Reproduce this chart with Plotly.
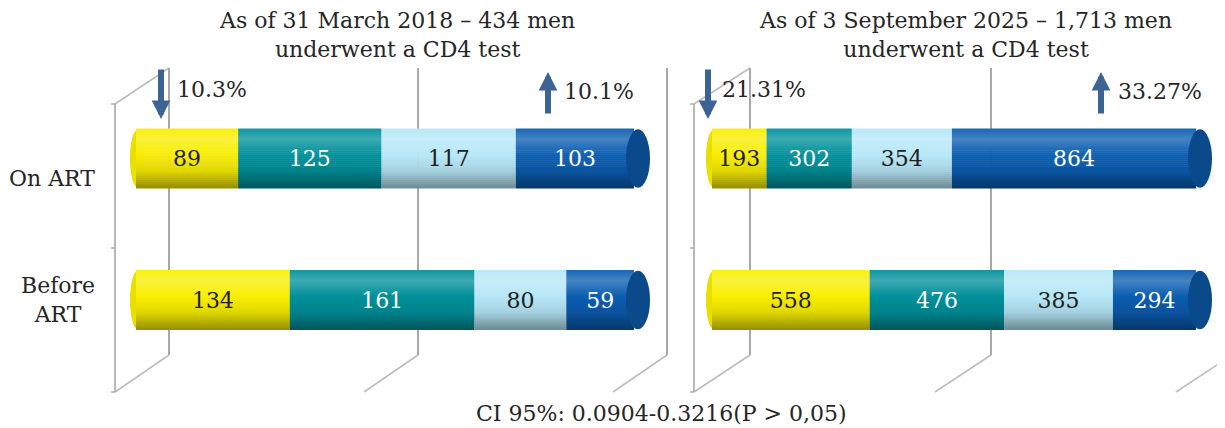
import plotly.graph_objects as go

# ---------------- data ----------------
categories = ["Before ART", "On ART"]
category_labels = ["Before<br>ART", "On ART"]
segment_names = ["Group 1", "Group 2", "Group 3", "Group 4"]

before_2018 = [134, 161, 80, 59]
on_2018 = [89, 125, 117, 103]
before_2025 = [558, 476, 385, 294]
on_2025 = [193, 302, 354, 864]

title_2018 = "As of 31 March 2018 – 434 men<br>underwent a CD4 test"
title_2025 = "As of 3 September 2025 – 1,713 men<br>underwent a CD4 test"
change_2018 = ["10.3%", "10.1%"]     # decrease of group 1, increase of group 4
change_2025 = ["21.31%", "33.27%"]
footnote = "CI 95%: 0.0904-0.3216(P > 0,05)"
gridline_values = [0, 50, 100]

# ---------------- style ----------------
OFF = 8                      # page body margin of the html page
W, H = 1225 - OFF, 428 - OFF  # figure size so that it fills the window
FONT = "DejaVu Serif, Cambria, serif"
FS = 22
TXT = "#262626"
seg_colors = ["#F8EE00", "#00909A", "#B6E7F7", "#0B5DB0"]
seg_text = ["#1E1E1E", "#FFFFFF", "#1E1E1E", "#FFFFFF"]
cap_color = "#0A4A8A"
left_cap_color = "#EAE000"
GRID = "#A8A8A8"
DIAG = "#BDBDBD"


def px(x):
    return (x - OFF) / W


def py(y):
    return 1 - (y - OFF) / H


def hex_rgb(h):
    h = h.lstrip("#")
    return [int(h[i:i + 2], 16) for i in (0, 2, 4)]


PROFILE = [(0.0, 0.06), (0.18, 0.24), (0.45, 0.0), (0.72, -0.10), (1.0, -0.40)]


def shade(h, t):
    a = 0
    for (t0, v0), (t1, v1) in zip(PROFILE[:-1], PROFILE[1:]):
        if t0 <= t <= t1:
            a = v0 + (v1 - v0) * (t - t0) / (t1 - t0)
            break
    rgb = hex_rgb(h)
    if a >= 0:
        out = [c + (255 - c) * a for c in rgb]
    else:
        out = [c * (1 + a) for c in rgb]
    return "rgb(%d,%d,%d)" % tuple(round(c) for c in out)


panels = [
    dict(rows={"Before ART": before_2018, "On ART": on_2018}, title=title_2018,
         change=change_2018, bar0=136, bar100=634, back0=169, back_scale=4.98,
         front=115, title_x=397, arrows=[161, 548], ptext=[175, 562]),
    dict(rows={"Before ART": before_2025, "On ART": on_2025}, title=title_2025,
         change=change_2025, bar0=712, bar100=1196, back0=750, back_scale=4.82,
         front=694, title_x=965, arrows=[708, 1101], ptext=[720, 1116]),
]

BACK_TOP, BACK_BOT = 68, 355
FRONT_TOP, FRONT_BOT = 104, 392
BAR_TOP_CENTER, BAR_BOT_CENTER = 158.5, 300
BW = 0.42
NB = 30

fig = go.Figure()
layout = dict(
    width=W, height=H, margin=dict(l=0, r=0, t=0, b=0), autosize=False,
    paper_bgcolor="white", plot_bgcolor="rgba(0,0,0,0)", showlegend=False,
    barmode="overlay", font=dict(family=FONT, size=FS, color=TXT),
)
shapes = []
annotations = []

unit = BAR_BOT_CENTER - BAR_TOP_CENTER
ybot = BAR_BOT_CENTER + unit * 0.5
ytop = BAR_TOP_CENTER - unit * 0.5

for p, P in enumerate(panels):
    wall_x = "x%d" % (p + 1) if p else "x"
    wall_y = "y%d" % (p + 1) if p else "y"
    bar_n = p + 3
    bx, by = "x%d" % bar_n, "y%d" % bar_n

    # ---- back wall (grid) axes ----
    sc = P["back_scale"]
    lo = -2
    hi = min(102, (1225 - P["back0"]) / sc)
    d0 = P["back0"] + lo * sc
    d1 = P["back0"] + hi * sc
    layout["xaxis%d" % (p + 1) if p else "xaxis"] = dict(
        domain=[px(d0), min(1.0, px(d1))], range=[lo, hi], anchor=wall_y,
        showgrid=True, gridcolor=GRID, gridwidth=1.6, tickvals=gridline_values,
        showticklabels=False, zeroline=False, showline=False, ticks="")
    layout["yaxis%d" % (p + 1) if p else "yaxis"] = dict(
        domain=[py(BACK_BOT), py(BACK_TOP)], range=[0, 1], anchor=wall_x,
        visible=False)
    fig.add_trace(go.Scatter(x=[None], y=[None], xaxis=wall_x, yaxis=wall_y,
                             hoverinfo="skip", showlegend=False))

    # ---- bar axes ----
    bsc = (P["bar100"] - P["bar0"]) / 100
    layout["xaxis%d" % bar_n] = dict(
        domain=[px(P["bar0"] - 4 * bsc), min(1.0, px(P["bar100"] + 4 * bsc))],
        range=[-4, 104], anchor=by, visible=False)
    layout["yaxis%d" % bar_n] = dict(
        domain=[py(ybot), py(ytop)], type="category", categoryarray=categories,
        range=[-0.5, 1.5], anchor=bx, visible=False)

    ys, xs, bases, cols, texts, tcols = [], [], [], [], [], []
    for c in categories:
        vals = P["rows"][c]
        tot = sum(vals)
        cum = 0
        for s, v in enumerate(vals):
            ys.append(c)
            xs.append(v / tot * 100)
            bases.append(cum / tot * 100)
            cols.append(s)
            texts.append(str(v))
            tcols.append(seg_text[s])
            cum += v

    # cylinder shading bands (top -> bottom)
    for i in range(NB):
        t = (i + 0.5) / NB
        off = BW / 2 - (i + 1) * BW / NB
        fig.add_trace(go.Bar(
            y=ys, x=xs, base=bases, orientation="h", xaxis=bx, yaxis=by,
            width=BW / NB * 1.3, offset=off - BW / NB * 0.15,
            marker=dict(color=[shade(seg_colors[s], t) for s in cols], line=dict(width=0)),
            hoverinfo="skip", showlegend=False))
    # value labels
    fig.add_trace(go.Bar(
        y=ys, x=xs, base=bases, orientation="h", xaxis=bx, yaxis=by,
        width=BW, offset=-BW / 2, text=texts, textposition="inside",
        insidetextanchor="middle", constraintext="none",
        insidetextfont=dict(family=FONT, size=FS, color=tcols),
        marker=dict(color="rgba(0,0,0,0)", line=dict(width=0)),
        hovertemplate="%{y}: %{text}<extra></extra>", showlegend=False))

    # cylinder caps
    for yi, c in enumerate(categories):
        shapes.append(dict(type="circle", xref=bx, yref=by, xsizemode="pixel",
                           xanchor=0, x0=-6, x1=8, y0=yi - BW / 2 + 0.01, y1=yi + BW / 2 - 0.01,
                           fillcolor=left_cap_color, line=dict(width=0), layer="below"))
        shapes.append(dict(type="circle", xref=bx, yref=by, xsizemode="pixel",
                           xanchor=100, x0=-8, x1=16, y0=yi - BW / 2 + 0.004,
                           y1=yi + BW / 2 - 0.004,
                           fillcolor=cap_color, line=dict(width=0), layer="above"))

    # ---- 3D frame (decoration) ----
    f = P["front"]
    dx = P["back0"] - f
    for g in gridline_values:
        xb = P["back0"] + g * sc
        shapes.append(dict(type="line", xref="paper", yref="paper",
                           x0=px(xb), y0=py(BACK_BOT), x1=px(xb - dx), y1=py(FRONT_BOT),
                           line=dict(color=DIAG, width=1.6), layer="below"))
    shapes.append(dict(type="line", xref="paper", yref="paper",
                       x0=px(f), y0=py(FRONT_TOP), x1=px(P["back0"]), y1=py(BACK_TOP),
                       line=dict(color=DIAG, width=1.6), layer="below"))
    shapes.append(dict(type="line", xref="paper", yref="paper",
                       x0=px(f), y0=py(FRONT_TOP), x1=px(f), y1=py(FRONT_BOT),
                       line=dict(color=GRID, width=1.6), layer="below"))
    for yt in [FRONT_TOP, (FRONT_TOP + FRONT_BOT) / 2, FRONT_BOT]:
        shapes.append(dict(type="line", xref="paper", yref="paper",
                           x0=px(f - 4), y0=py(yt), x1=px(f), y1=py(yt),
                           line=dict(color=GRID, width=1.4), layer="below"))

    # ---- title ----
    annotations.append(dict(text=P["title"], xref="paper", yref="paper",
                            x=px(P["title_x"]), y=py(35), xanchor="center",
                            yanchor="middle", showarrow=False, align="center",
                            font=dict(family=FONT, size=FS, color=TXT)))

    # ---- change arrows ----
    ax0, ax1 = P["arrows"]
    annotations.append(dict(text="", xref="paper", yref="paper", x=px(ax0), y=py(119),
                            ax=0, ay=-51, showarrow=True, arrowhead=2, arrowsize=0.62,
                            arrowwidth=6, arrowcolor="#3D6393", standoff=0))
    annotations.append(dict(text="", xref="paper", yref="paper", x=px(ax1), y=py(72),
                            ax=0, ay=43, showarrow=True, arrowhead=2, arrowsize=0.62,
                            arrowwidth=6, arrowcolor="#3D6393", standoff=0))
    for txt, xx, yy in zip(P["change"], P["ptext"], [90, 92]):
        annotations.append(dict(text=txt, xref="paper", yref="paper", x=px(xx), y=py(yy),
                                xanchor="left", yanchor="middle", showarrow=False,
                                font=dict(family=FONT, size=FS, color=TXT)))

# category labels (left side only)
for c, lab, ysh in zip(categories, category_labels, [0, -20]):
    annotations.append(dict(text=lab, xref="paper", yref="y3", x=px(97), y=c,
                            yshift=ysh, xanchor="right", yanchor="middle", align="center",
                            showarrow=False, font=dict(family=FONT, size=FS, color=TXT)))

annotations.append(dict(text=footnote, xref="paper", yref="paper", x=px(661), y=py(413),
                        xanchor="center", yanchor="middle", showarrow=False,
                        font=dict(family=FONT, size=FS, color=TXT)))

layout["shapes"] = shapes
layout["annotations"] = annotations
fig.update_layout(**layout)
fig.write_html("out.html")
